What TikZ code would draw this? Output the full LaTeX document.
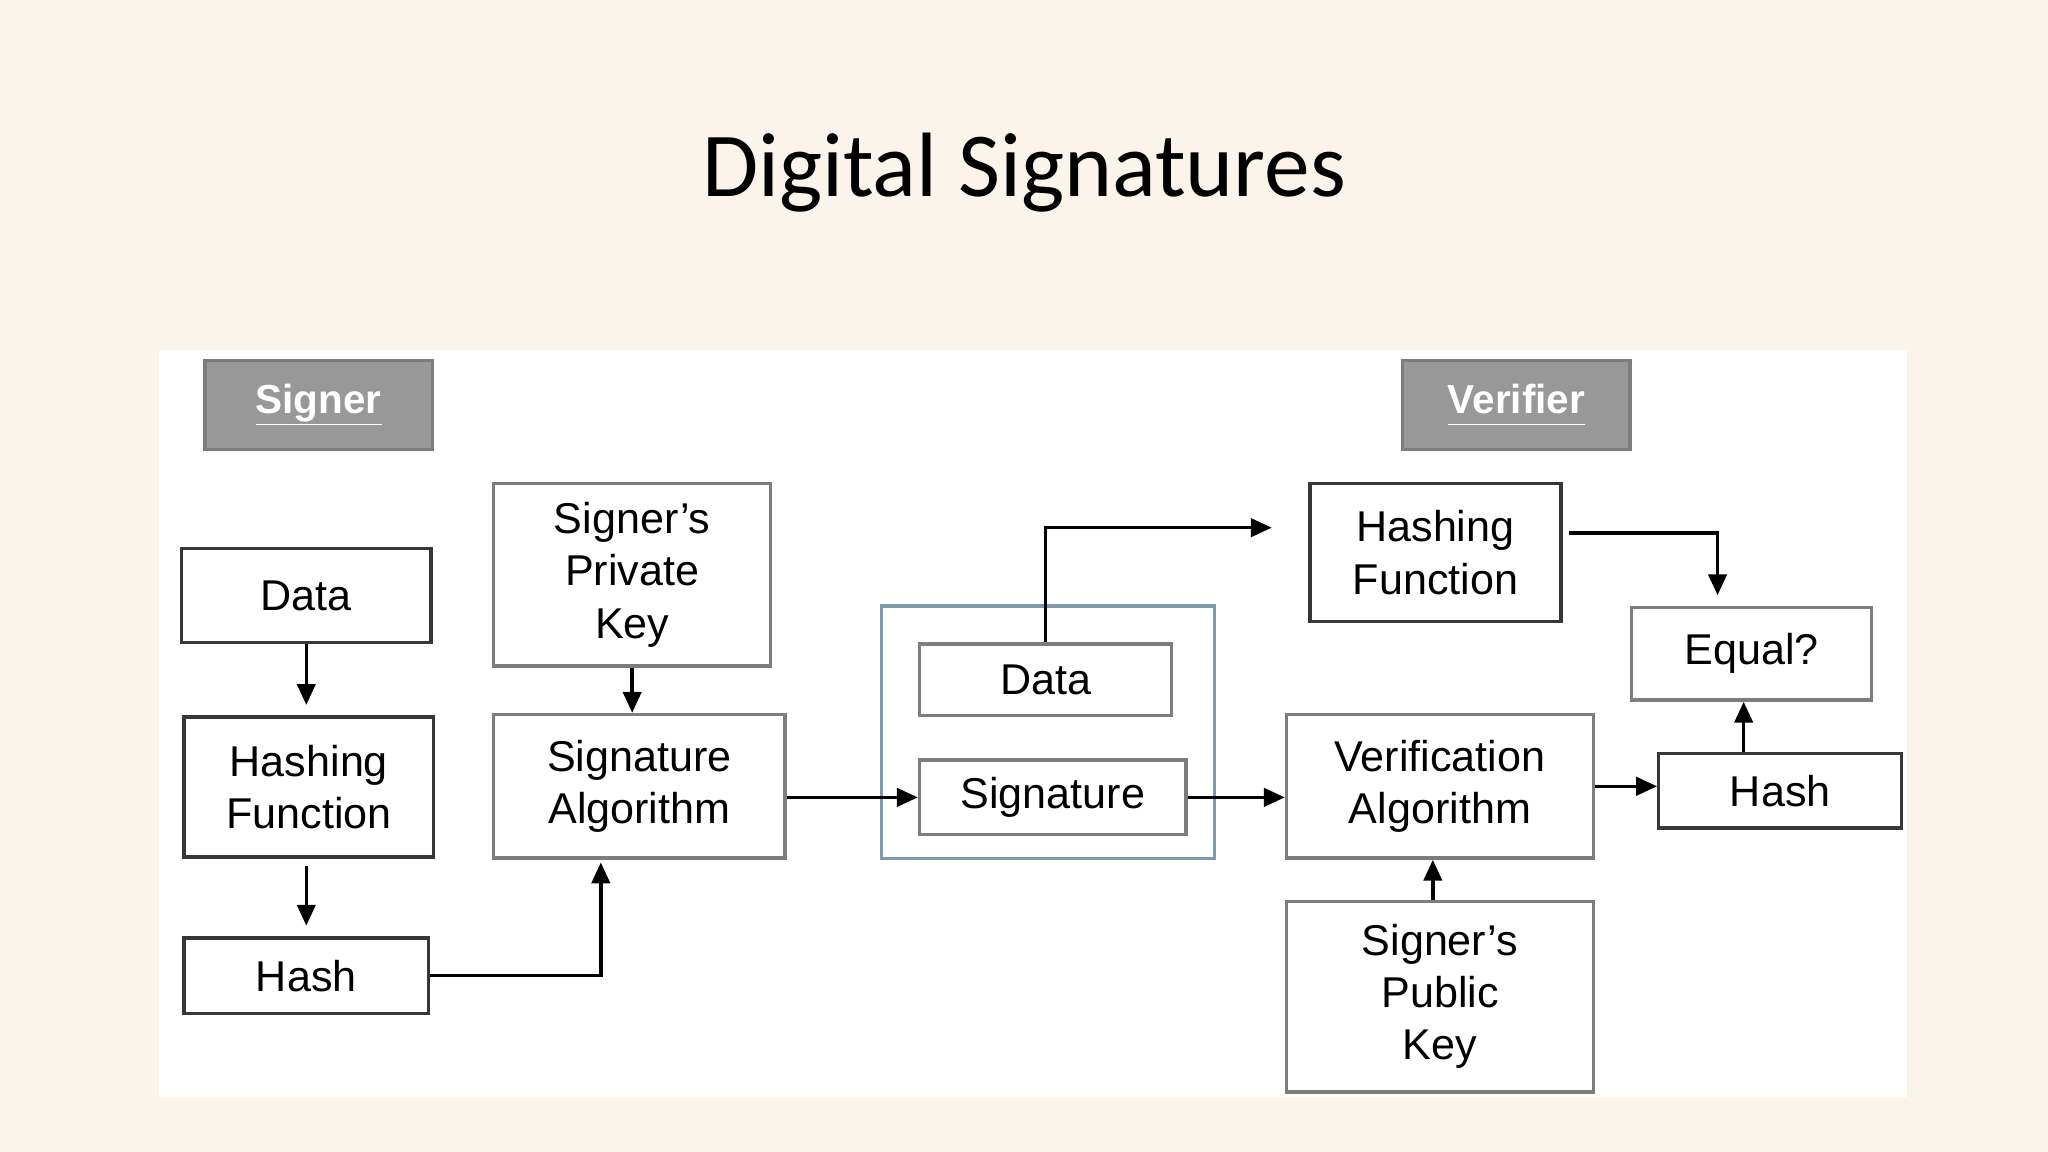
\documentclass[tikz,border=0pt]{standalone}
\usepackage{fontspec}
\setmainfont{Liberation Sans}
\newfontfamily\titlefont{Carlito}
\usetikzlibrary{arrows.meta,calc}
\definecolor{slidebg}{RGB}{250,244,234}
\definecolor{labelgray}{RGB}{152,152,152}
\definecolor{labeledge}{RGB}{125,125,125}
\definecolor{darkedge}{RGB}{55,55,55}
\definecolor{softedge}{RGB}{125,125,125}
\definecolor{envblue}{RGB}{125,155,172}
\tikzset{
  box/.style={
    rectangle,
    fill=white,
    line width=2.6pt,
    align=center,
    inner sep=0pt,
    font=\fontsize{33}{40}\selectfont
  },
  box-dark/.style={box, draw=darkedge},
  box-soft/.style={box, draw=softedge},
  side-label/.style={
    rectangle,
    fill=labelgray,
    draw=labeledge,
    line width=2.5pt,
    text=white,
    minimum width=174pt,
    minimum height=68pt,
    font=\fontsize{31}{36}\selectfont\bfseries
  },
  flow/.style={
    line width=2.6pt,
    draw=black,
    -{Triangle[length=16pt,width=14pt]}
  },
  envelope/.style={rectangle, draw=envblue, line width=2.4pt}
}

\begin{document}
\begin{tikzpicture}[x=1pt,y=-1pt]
  \useasboundingbox (0,0) rectangle (1568,882);
  \fill[slidebg] (0,0) rectangle (1568,882);
  \fill[white] (122,268) rectangle (1460,840);
  \node[font=\titlefont\fontsize{70}{80}\selectfont] (title) at (784,132) {Digital Signatures};
  % side headers
  \foreach \name/\x/\txt in {sgnlbl/244/Signer, verlbl/1161/Verifier}{
    \node[side-label] (\name) at (\x,310) {\underline{\vphantom{g}\txt}};
  }
  % Signer side
  \node[box-dark, minimum width=191pt, minimum height=72pt] (data) at (234.5,456) {Data};
  \node[box-dark, minimum width=191pt, minimum height=107pt] (hashfn) at (236.5,602.5) {Hashing\\Function};
  \node[box-dark, minimum width=187pt, minimum height=58pt] (hash) at (234.5,747) {Hash};
  \node[box-soft, minimum width=212pt, minimum height=140pt] (privkey) at (484,440) {Signer's\\Private\\Key};
  \node[box-soft, minimum width=223pt, minimum height=110pt] (sigalg) at (489.5,602) {Signature\\Algorithm};
  % signed message
  \node[envelope, minimum width=255pt, minimum height=193pt] (env) at (802.5,560.5) {};
  \node[box-soft, minimum width=193pt, minimum height=55pt] (msg) at (800.5,520.5) {Data};
  \node[box-soft, minimum width=204pt, minimum height=57pt] (sig) at (806,610.5) {Signature};
  % Verifier side
  \node[box-dark, minimum width=192pt, minimum height=106pt] (vhashfn) at (1099,423) {Hashing\\Function};
  \node[box-soft, minimum width=184pt, minimum height=71pt] (equal) at (1341,500.5) {Equal?};
  \node[box-soft, minimum width=235pt, minimum height=110pt] (veralg) at (1102.5,602) {Verification\\Algorithm};
  \node[box-dark, minimum width=186pt, minimum height=57pt] (vhash) at (1363,605.5) {Hash};
  \node[box-soft, minimum width=235pt, minimum height=146pt] (pubkey) at (1102.5,763) {Signer's\\Public\\Key};
  % signing arrows
  \draw[flow, shorten >=8pt] (data.south) -- (data.south |- hashfn.north);
  \draw[flow, shorten >=8pt, shorten <=6pt] (hash.north |- hashfn.south) -- (hash.north);
  \draw[flow] (privkey.south) -- (privkey.south |- sigalg.north);
  \draw[flow, shorten >=2pt] (hash.east) -| ([xshift=-29.5pt]sigalg.south);
  \draw[flow] (sigalg.east |- sig.west) -- (sig.west);
  % verifying arrows
  \draw[flow] (sig.east) -- (sig.east -| veralg.west);
  \draw[flow, shorten >=28pt] (msg.north) |- ([yshift=19pt]vhashfn.west);
  \draw[flow, shorten >=8pt, shorten <=5pt] ([yshift=15pt]vhashfn.east) -| ([xshift=-26pt]equal.north);
  \draw[flow] (veralg.east) -- (veralg.east -| vhash.west);
  \draw[flow] ([xshift=-28pt]vhash.north) -- ([xshift=-28pt]vhash.north |- equal.south);
  \draw[flow] ([xshift=-5.5pt]pubkey.north) -- ([xshift=-5.5pt]veralg.south);
\end{tikzpicture}
\end{document}
